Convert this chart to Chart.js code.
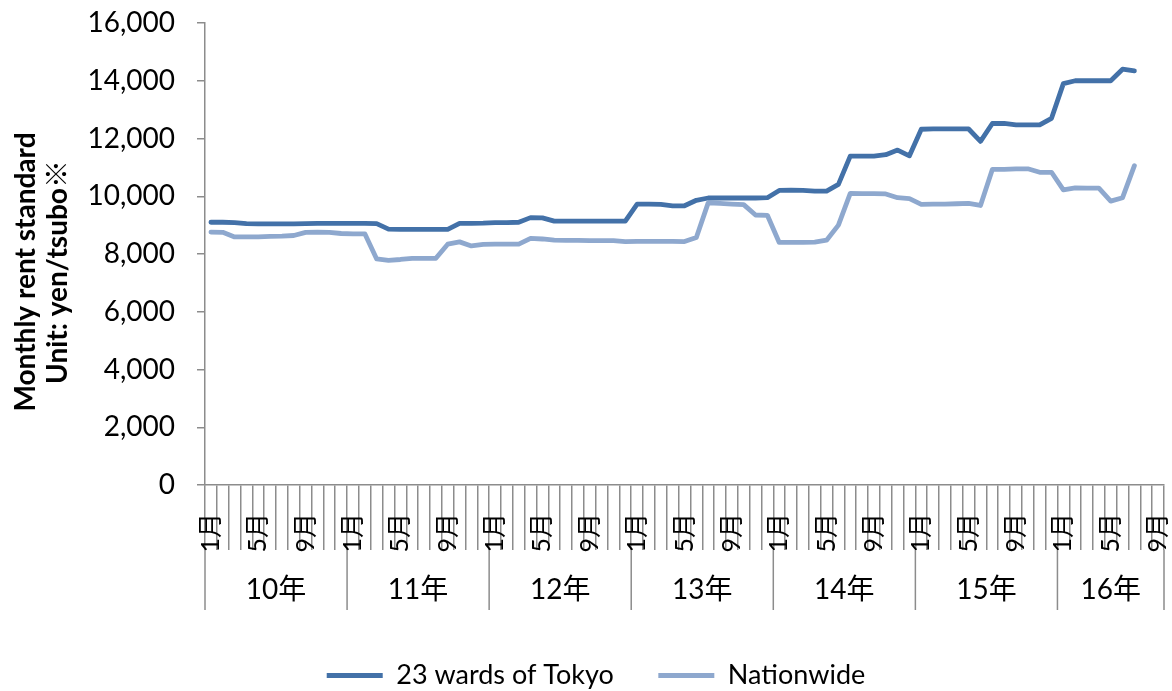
<!DOCTYPE html>
<html>
<head>
<meta charset="utf-8">
<script src="https://cdn.jsdelivr.net/npm/chart.js@4.4.1/dist/chart.umd.min.js"></script>
<style>
  html, body { margin: 0; padding: 0; background: #fff; }
  #wrap { width: 1172px; height: 691px; }
</style>
</head>
<body>
<div id="wrap"><canvas id="myChart" width="1172" height="691"></canvas></div>
<script>
// x axis: years and the months shown under each one
const years = ['10年', '11年', '12年', '13年', '14年', '15年', '16年'];
const monthsPerYear = [12, 12, 12, 12, 12, 12, 9];
const monthNames = ['1月', '2月', '3月', '4月', '5月', '6月', '7月', '8月', '9月', '10月', '11月', '12月'];
const shownMonths = ['1月', '5月', '9月']; // only these get a label

// y axis
const yTicks = [0, 2000, 4000, 6000, 8000, 10000, 12000, 14000, 16000];
const yTitle = ['Monthly rent standard', 'Unit: yen/tsubo※'];

// monthly rent standard, yen/tsubo, Jan 2010 .. Jul 2016
const tokyo = [
  9100, 9100, 9090, 9050, 9040, 9040, 9040, 9040, 9050, 9060, 9060, 9060,
  9060, 9060, 9050, 8860, 8850, 8850, 8850, 8850, 8850, 9060, 9060, 9070,
  9090, 9090, 9100, 9260, 9250, 9140, 9140, 9140, 9140, 9140, 9140, 9140,
  9730, 9730, 9720, 9670, 9670, 9860, 9940, 9940, 9940, 9940, 9940, 9950,
  10200, 10210, 10200, 10180, 10180, 10410, 11390, 11390, 11390, 11440, 11600, 11400,
  12320, 12330, 12330, 12330, 12330, 11900, 12520, 12520, 12470, 12470, 12470, 12700,
  13900, 14000, 14000, 14000, 14000, 14400, 14340
];
const nationwide = [
  8760, 8750, 8590, 8590, 8590, 8610, 8620, 8640, 8750, 8760, 8750, 8710,
  8700, 8700, 7830, 7780, 7810, 7850, 7850, 7850, 8340, 8420, 8280, 8330,
  8340, 8340, 8340, 8540, 8520, 8480, 8470, 8470, 8460, 8460, 8460, 8430,
  8440, 8440, 8440, 8440, 8430, 8570, 9770, 9750, 9730, 9710, 9350, 9340,
  8400, 8400, 8400, 8410, 8480, 9000, 10100, 10090, 10090, 10080, 9950, 9920,
  9720, 9730, 9730, 9740, 9750, 9680, 10930, 10930, 10950, 10950, 10830, 10830,
  10220, 10290, 10280, 10280, 9830, 9950, 11060
];

const monthLabels = [];
monthsPerYear.forEach(n => {
  for (let m = 0; m < n; m++) monthLabels.push(monthNames[m]);
});

const ctx = document.getElementById('myChart');
const axisGray = '#8c8c8c';
const fontName = "Lato, 'Noto Sans CJK JP', sans-serif";

// second row of the x axis: year names and the long separators
const yearRow = {
  id: 'yearRow',
  afterDraw(chart) {
    const x = chart.scales.x;
    const c = chart.ctx;
    const half = (x.getPixelForValue(1) - x.getPixelForValue(0)) / 2;
    const lineTop = x.top + 65;
    const lineBottom = x.top + 125;
    let start = 0;
    c.save();
    c.strokeStyle = axisGray;
    c.lineWidth = 1.5;
    c.fillStyle = '#000';
    c.font = '28px ' + fontName;
    c.textAlign = 'center';
    c.textBaseline = 'middle';
    years.forEach((yr, k) => {
      const left = x.getPixelForValue(start) - half;
      const right = x.getPixelForValue(start + monthsPerYear[k] - 1) + half;
      c.beginPath();
      c.moveTo(left, lineTop);
      c.lineTo(left, lineBottom);
      if (k === years.length - 1) {
        c.moveTo(right, lineTop);
        c.lineTo(right, lineBottom);
      }
      c.stroke();
      c.fillText(yr, (left + right) / 2, x.top + 105);
      start += monthsPerYear[k];
    });
    c.restore();
  }
};

// y axis title, two lines turned to read upwards
const yTitleDraw = {
  id: 'yTitleDraw',
  afterDraw(chart) {
    const c = chart.ctx;
    const area = chart.chartArea;
    c.save();
    c.translate(0, (area.top + area.bottom) / 2 + 18);
    c.rotate(-Math.PI / 2);
    c.fillStyle = '#000';
    c.font = 'bold 28px ' + fontName;
    c.textAlign = 'center';
    c.textBaseline = 'middle';
    yTitle.forEach((line, i) => c.fillText(line, 0, 26 + i * 32));
    c.restore();
  }
};

new Chart(ctx, {
  type: 'line',
  data: {
    labels: monthLabels,
    datasets: [{
      label: '23 wards of Tokyo',
      data: tokyo,
      borderColor: '#4371a8',
      backgroundColor: '#4371a8',
      borderWidth: 4.8,
      pointRadius: 0,
      tension: 0,
      borderJoinStyle: 'round',
      borderCapStyle: 'round'
    }, {
      label: 'Nationwide',
      data: nationwide,
      borderColor: '#8ea8ce',
      backgroundColor: '#8ea8ce',
      borderWidth: 4.8,
      pointRadius: 0,
      tension: 0,
      borderJoinStyle: 'round',
      borderCapStyle: 'round'
    }]
  },
  options: {
    responsive: false,
    animation: false,
    // left padding + narrower y box keeps the plot at x=205 but centres the legend like the original
    layout: { padding: { top: 23, right: 8, bottom: -8, left: 28 } },
    scales: {
      x: {
        offset: true,
        grid: { offset: true, drawOnChartArea: false, color: axisGray, lineWidth: 1.5, tickLength: 65 },
        border: { color: axisGray, width: 1.5 },
        ticks: {
          autoSkip: false,
          minRotation: 90,
          maxRotation: 90,
          padding: -37,
          color: '#000',
          font: { family: fontName, size: 25 },
          callback: function (value) {
            const lab = this.getLabelForValue(value);
            return shownMonths.includes(lab) ? lab : '';
          }
        },
        afterFit: function (scale) { scale.height = 174; }
      },
      y: {
        min: yTicks[0],
        max: yTicks[yTicks.length - 1],
        afterBuildTicks: function (scale) { scale.ticks = yTicks.map(v => ({ value: v })); },
        grid: { drawOnChartArea: false, color: axisGray, lineWidth: 1.5, tickLength: 8 },
        border: { color: axisGray, width: 1.5 },
        ticks: {
          padding: 22,
          color: '#000',
          // tiny lineHeight keeps the top label from pushing the plot down
          font: { family: fontName, size: 28, lineHeight: 0.01 },
          callback: v => v.toLocaleString('en-US')
        },
        afterFit: function (scale) { scale.width = 177; }
      }
    },
    plugins: {
      legend: {
        position: 'bottom',
        labels: {
          boxWidth: 56,
          boxHeight: 5,
          padding: 3,
          color: '#000',
          font: { family: fontName, size: 27 },
          generateLabels: function (chart) {
            const items = Chart.defaults.plugins.legend.labels.generateLabels(chart);
            items.forEach((it, i) => {
              it.lineWidth = 0;
              it.fillStyle = it.strokeStyle;
              if (i === 0) it.text += '      '; // wider gap before the next item
            });
            return items;
          }
        }
      },
      tooltip: { enabled: false }
    }
  },
  plugins: [yearRow, yTitleDraw]
});
</script>
</body>
</html>
